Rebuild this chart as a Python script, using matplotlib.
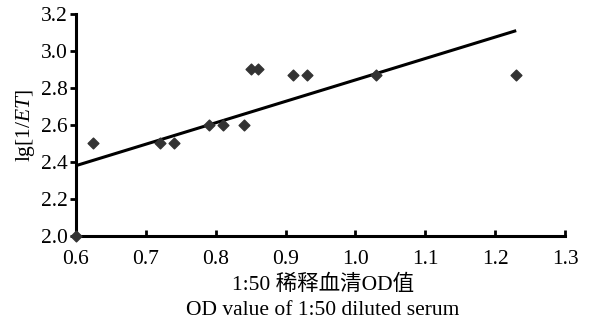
import matplotlib
matplotlib.use("Agg")
import matplotlib.pyplot as plt

od_values = [0.600, 0.625, 0.720, 0.740, 0.790, 0.810, 0.840, 0.850, 0.860, 0.910, 0.930, 1.030, 1.230]
lg_values = [2.00, 2.50, 2.50, 2.50, 2.60, 2.60, 2.60, 2.90, 2.90, 2.87, 2.87, 2.87, 2.87]
fit_x = [0.60, 1.23]
fit_y = [2.38, 3.11]
x_ticks = [0.6, 0.7, 0.8, 0.9, 1.0, 1.1, 1.2, 1.3]
y_ticks = [2.0, 2.2, 2.4, 2.6, 2.8, 3.0, 3.2]

serif = ["Liberation Serif", "Noto Sans CJK SC", "DejaVu Serif"]
plt.rcParams['font.family'] = serif
plt.rcParams['mathtext.fontset'] = 'custom'
plt.rcParams['mathtext.it'] = 'Liberation Serif:italic'
plt.rcParams['mathtext.rm'] = 'Liberation Serif'

fig = plt.figure(figsize=(5.93, 3.25), dpi=100)
ax = fig.add_axes([0.128, 0.274, 0.825, 0.683])

ax.plot(fit_x, fit_y, color="black", lw=2.2, solid_capstyle="butt", zorder=2)
ax.scatter(od_values, lg_values, marker="D", s=30, color="#333333", zorder=3, clip_on=False)

ax.set_xlim(0.6, 1.3)
ax.set_ylim(2.0, 3.2)
ax.set_xticks(x_ticks)
ax.set_yticks(y_ticks)
ax.set_xticklabels([f"{v:.1f}" for v in x_ticks])
ax.set_yticklabels([f"{v:.1f}" for v in y_ticks])

for s in ["top", "right"]:
    ax.spines[s].set_visible(False)
for s in ["left", "bottom"]:
    ax.spines[s].set_linewidth(2.2)
ax.tick_params(axis="x", direction="in", length=4, width=2, labelsize=15.5, pad=10)
ax.tick_params(axis="y", direction="out", length=4, width=2, labelsize=15.5, pad=2)

ax.set_ylabel(r"lg[1/$ET$]", fontsize=15.5, labelpad=3)

fig.text(0.545, 0.123, "1:50 稀释血清OD值", ha="center", va="center", fontsize=15.5,
         family=["Liberation Serif", "Noto Sans CJK SC"])
fig.text(0.545, 0.045, "OD value of 1:50 diluted serum", ha="center", va="center", fontsize=15.5)

fig.savefig("out.png", dpi=100)
